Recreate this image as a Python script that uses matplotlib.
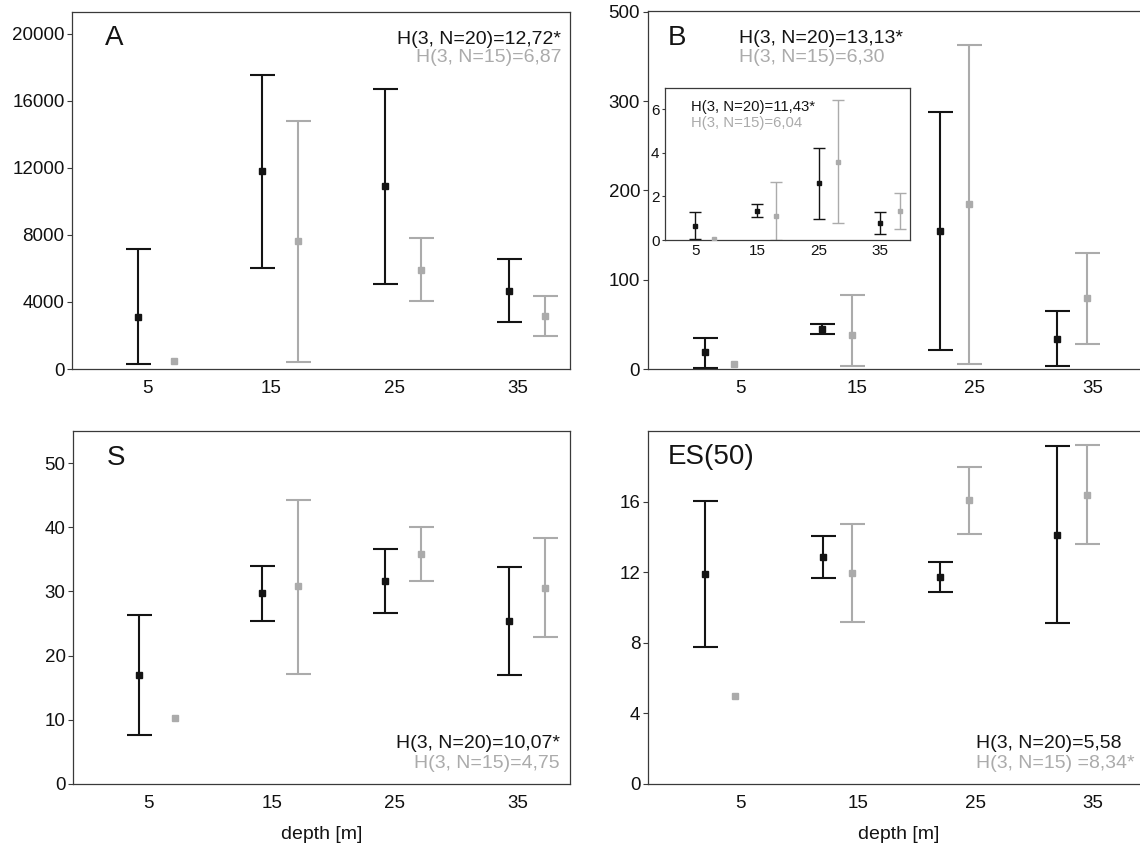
import numpy as np
import matplotlib
matplotlib.use("Agg")
import matplotlib.pyplot as plt

plt.rcParams["font.family"] = ["Liberation Sans", "DejaVu Sans"]

# ── data ─────────────────────────────────────────────────────────
depths = ["5", "15", "25", "35"]

# A (abundance)
a_n20_mean = [3075, 11800, 10910, 4680]
a_n20_lo = [320, 6050, 5080, 2780]
a_n20_hi = [7140, 17520, 16690, 6570]
a_n15_mean = [460, 7640, 5930, 3170]
a_n15_lo = [np.nan, 400, 4030, 1980]
a_n15_hi = [np.nan, 14820, 7820, 4330]

# B (biomass)
b_n20_mean = [18.6, 45, 154.6, 34]
b_n20_lo = [1.5, 39, 21, 3]
b_n20_hi = [35, 50, 288, 65.4]
b_n15_mean = [5.6, 38.6, 184.7, 80]
b_n15_lo = [np.nan, 3.3, 6, 28]
b_n15_hi = [np.nan, 82.5, 362.8, 130]
b_ticks = [0, 100, 200, 300, 400]
b_ticklabels = ["0", "100", "200", "300", "500"]

# B inset
bi_n20_mean = [0.64, 1.33, 2.60, 0.78]
bi_n20_lo = [0.05, 1.04, 0.95, 0.28]
bi_n20_hi = [1.29, 1.64, 4.24, 1.30]
bi_n15_mean = [0.03, 1.10, 3.58, 1.33]
bi_n15_lo = [np.nan, 0.0, 0.77, 0.49]
bi_n15_hi = [np.nan, 2.65, 6.4, 2.14]

# S (species number)
s_n20_mean = [17.0, 29.7, 31.6, 25.4]
s_n20_lo = [7.7, 25.4, 26.6, 17.0]
s_n20_hi = [26.3, 33.9, 36.6, 33.8]
s_n15_mean = [10.3, 30.8, 35.9, 30.6]
s_n15_lo = [np.nan, 17.2, 31.7, 22.9]
s_n15_hi = [np.nan, 44.2, 40.0, 38.3]

# ES(50)
e_n20_mean = [11.92, 12.88, 11.73, 14.12]
e_n20_lo = [7.78, 11.68, 10.87, 9.1]
e_n20_hi = [16.04, 14.05, 12.56, 19.15]
e_n15_mean = [4.99, 11.96, 16.08, 16.38]
e_n15_lo = [np.nan, 9.19, 14.16, 13.62]
e_n15_hi = [np.nan, 14.71, 17.98, 19.19]

BLACK = "#141414"
GREY = "#ababab"
SPINE = "#3a3a3a"

W, H = 1140, 844


def px_axes(fig, left, top, right, bottom):
    """axes from pixel box (top-left origin)"""
    return fig.add_axes([left / W, (H - bottom) / H, (right - left) / W, (bottom - top) / H])


def draw_series(ax, x, mean, lo, hi, color, capsize, lw, ms):
    x = np.asarray(x, dtype=float)
    mean = np.asarray(mean, dtype=float)
    lo = np.asarray(lo, dtype=float)
    hi = np.asarray(hi, dtype=float)
    ok = np.isfinite(lo) & np.isfinite(hi)
    ax.errorbar(x[ok], mean[ok], yerr=[mean[ok] - lo[ok], hi[ok] - mean[ok]],
                fmt="none", ecolor=color, elinewidth=lw, capsize=capsize,
                capthick=lw, zorder=2)
    ax.plot(x, mean, "s", color=color, ms=ms, mec=color, zorder=3)


def style_axes(ax, xlim, ylim, fs=13.5, tick_pad_x=8):
    ax.set_xlim(*xlim)
    ax.set_ylim(*ylim)
    ax.set_xticks(range(4))
    ax.set_xticklabels(depths)
    for s in ax.spines.values():
        s.set_color(SPINE)
        s.set_linewidth(0.9)
    ax.tick_params(axis="x", length=0, pad=tick_pad_x, labelsize=fs, colors="#111111")
    ax.tick_params(axis="y", length=3.4, width=0.8, pad=2, labelsize=fs,
                   direction="out", color=SPINE, labelcolor="#111111")


def h_text(ax, x, y1, y2, t1, t2, ha="left", fs=14):
    ax.text(x, y1, t1, transform=ax.transAxes, ha=ha, va="center", fontsize=fs, color=BLACK)
    ax.text(x, y2, t2, transform=ax.transAxes, ha=ha, va="center", fontsize=fs, color=GREY)


fig = plt.figure(figsize=(W / 100, H / 100), dpi=100)
pos = np.arange(4)

# left column layout: black at -0.077, grey at +0.215
L_OFF = (-0.077, 0.215)
L_XLIM = (-0.611, 3.42)
# right column layout: black at -0.30, grey at -0.05
R_OFF = (-0.30, -0.05)
R_XLIM = (-0.787, 3.49)

# ── A ──
ax = px_axes(fig, 72, 12, 570, 369)
draw_series(ax, pos + L_OFF[0], a_n20_mean, a_n20_lo, a_n20_hi, BLACK, 9, 1.5, 4.5)
draw_series(ax, pos + L_OFF[1], a_n15_mean, a_n15_lo, a_n15_hi, GREY, 9, 1.5, 4.5)
style_axes(ax, L_XLIM, (0, 21300))
ax.set_yticks([0, 4000, 8000, 12000, 16000, 20000])
ax.text(0.067, 0.927, "A", transform=ax.transAxes, fontsize=20, va="center", color=BLACK)
h_text(ax, 0.982, 0.924, 0.873, "H(3, N=20)=12,72*", "H(3, N=15)=6,87", ha="right")

# ── B ──
ax = px_axes(fig, 647.5, 11, 1150, 369)
draw_series(ax, pos + R_OFF[0], b_n20_mean, b_n20_lo, b_n20_hi, BLACK, 9, 1.5, 4.5)
draw_series(ax, pos + R_OFF[1], b_n15_mean, b_n15_lo, b_n15_hi, GREY, 9, 1.5, 4.5)
style_axes(ax, R_XLIM, (0, 401))
ax.set_yticks(b_ticks)
ax.set_yticklabels(b_ticklabels)
ax.text(0.040, 0.924, "B", transform=ax.transAxes, fontsize=20, va="center", color=BLACK)
h_text(ax, 0.182, 0.924, 0.869, "H(3, N=20)=13,13*", "H(3, N=15)=6,30")

# ── B inset ──
ax = px_axes(fig, 665, 88, 910, 240)
draw_series(ax, pos, bi_n20_mean, bi_n20_lo, bi_n20_hi, BLACK, 4.3, 1.0, 3)
draw_series(ax, pos + 0.31, bi_n15_mean, bi_n15_lo, bi_n15_hi, GREY, 4.5, 1.0, 2.5)
style_axes(ax, (-0.49, 3.48), (0, 6.97), fs=11, tick_pad_x=3)
ax.tick_params(axis="y", length=2.5, pad=1.5)
ax.set_yticks([0, 2, 4, 6])
h_text(ax, 0.106, 0.875, 0.77, "H(3, N=20)=11,43*", "H(3, N=15)=6,04", fs=10.7)

# ── S ──
ax = px_axes(fig, 73, 431, 570, 784)
draw_series(ax, pos + L_OFF[0], s_n20_mean, s_n20_lo, s_n20_hi, BLACK, 9, 1.5, 4.5)
draw_series(ax, pos + L_OFF[1], s_n15_mean, s_n15_lo, s_n15_hi, GREY, 9, 1.5, 4.5)
style_axes(ax, L_XLIM, (0, 55))
ax.set_yticks([0, 10, 20, 30, 40, 50])
ax.set_xlabel("depth [m]", fontsize=14, labelpad=10, color=BLACK)
ax.text(0.068, 0.923, "S", transform=ax.transAxes, fontsize=20, va="center", color=BLACK)
h_text(ax, 0.98, 0.116, 0.059, "H(3, N=20)=10,07*", "H(3, N=15)=4,75", ha="right")

# ── ES(50) ──
ax = px_axes(fig, 648, 431, 1150, 784)
draw_series(ax, pos + R_OFF[0], e_n20_mean, e_n20_lo, e_n20_hi, BLACK, 9, 1.5, 4.5)
draw_series(ax, pos + R_OFF[1], e_n15_mean, e_n15_lo, e_n15_hi, GREY, 9, 1.5, 4.5)
style_axes(ax, R_XLIM, (0, 20))
ax.set_yticks([0, 4, 8, 12, 16])
ax.set_xlabel("depth [m]", fontsize=14, labelpad=10, color=BLACK)
ax.text(0.039, 0.926, "ES(50)", transform=ax.transAxes, fontsize=20, va="center", color=BLACK)
h_text(ax, 0.654, 0.116, 0.059, "H(3, N=20)=5,58", "H(3, N=15) =8,34*")

fig.savefig("out.png", dpi=100)
